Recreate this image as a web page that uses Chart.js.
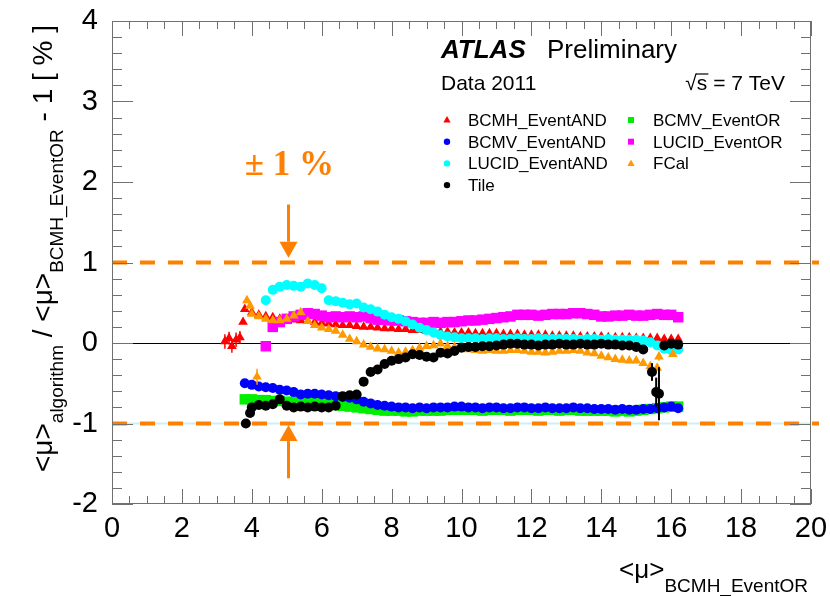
<!DOCTYPE html>
<html>
<head>
<meta charset="utf-8">
<script src="https://cdn.jsdelivr.net/npm/chart.js@4"></script>
<style>
  html, body { margin: 0; padding: 0; background: #fff; }
  #wrap { width: 830px; height: 596px; }
</style>
</head>
<body>
<div id="wrap"><canvas id="chart" width="830" height="596"></canvas></div>
<script>
// <mu> of the reference algorithm (BCMH_EventOR), common binning
const MU_GRID = [
  3.8, 4.0, 4.2, 4.4, 4.6, 4.8, 5.0, 5.2, 5.4, 5.6,
  5.8, 6.0, 6.2, 6.4, 6.6, 6.8, 7.0, 7.2, 7.4, 7.6,
  7.8, 8.0, 8.2, 8.4, 8.6, 8.8, 9.0, 9.2, 9.4, 9.6,
  9.8, 10.0, 10.2, 10.4, 10.6, 10.8, 11.0, 11.2, 11.4, 11.6,
  11.8, 12.0, 12.2, 12.4, 12.6, 12.8, 13.0, 13.2, 13.4, 13.6,
  13.8, 14.0, 14.2, 14.4, 14.6, 14.8, 15.0, 15.2, 15.4, 15.6,
  15.8, 16.0, 16.2
];

// relative deviation in % for each algorithm, one value per MU_GRID bin
const bcmhEventAND = [
  0.42, 0.38, 0.35, 0.33, 0.32, 0.30, 0.29, 0.29, 0.28, 0.27,
  0.26, 0.25, 0.24, 0.23, 0.22, 0.22, 0.21, 0.20, 0.20, 0.19,
  0.18, 0.18, 0.17, 0.17, 0.16, 0.16, 0.15, 0.15, 0.14, 0.14,
  0.13, 0.13, 0.13, 0.12, 0.12, 0.12, 0.12, 0.11, 0.11, 0.11,
  0.10, 0.10, 0.10, 0.10, 0.09, 0.09, 0.09, 0.09, 0.08, 0.08,
  0.08, 0.08, 0.07, 0.07, 0.07, 0.07, 0.06, 0.06, 0.06, 0.06,
  0.05, 0.05, 0.05
];
const bcmvEventAND = [
  -0.50, -0.52, -0.54, -0.55, -0.56, -0.58, -0.59, -0.61, -0.64, -0.63,
  -0.63, -0.64, -0.65, -0.66, -0.67, -0.68, -0.70, -0.73, -0.75, -0.77,
  -0.78, -0.79, -0.80, -0.80, -0.81, -0.80, -0.81, -0.80, -0.80, -0.80,
  -0.79, -0.79, -0.80, -0.80, -0.81, -0.80, -0.80, -0.81, -0.81, -0.80,
  -0.80, -0.81, -0.81, -0.80, -0.81, -0.81, -0.81, -0.80, -0.81, -0.81,
  -0.82, -0.82, -0.82, -0.83, -0.82, -0.83, -0.83, -0.82, -0.82, -0.81,
  -0.80, -0.79, -0.81
];
const bcmvEventOR = [
  -0.70, -0.70, -0.71, -0.71, -0.72, -0.72, -0.73, -0.73, -0.74, -0.74,
  -0.75, -0.75, -0.76, -0.77, -0.78, -0.79, -0.80, -0.81, -0.82, -0.83,
  -0.84, -0.84, -0.84, -0.85, -0.85, -0.84, -0.84, -0.84, -0.84, -0.83,
  -0.83, -0.83, -0.83, -0.83, -0.84, -0.83, -0.83, -0.83, -0.84, -0.83,
  -0.83, -0.83, -0.84, -0.83, -0.83, -0.84, -0.83, -0.83, -0.84, -0.84,
  -0.84, -0.84, -0.84, -0.85, -0.84, -0.85, -0.84, -0.83, -0.82, -0.81,
  -0.80, -0.79, -0.79
];
const lucidEventAND = [
  null, null, null, 0.53, 0.66, 0.70, 0.72, 0.71, 0.70, 0.74,
  0.72, 0.68, 0.53, 0.52, 0.50, 0.48, 0.49, 0.44, 0.42, 0.39,
  0.35, 0.32, 0.30, 0.27, 0.23, 0.19, 0.16, 0.13, 0.10, 0.08,
  0.07, 0.06, 0.06, 0.06, 0.05, 0.06, 0.06, 0.05, 0.05, 0.06,
  0.05, 0.05, 0.06, 0.05, 0.05, 0.05, 0.05, 0.05, 0.04, 0.05,
  0.05, 0.04, 0.05, 0.04, 0.04, 0.04, 0.04, 0.03, 0.01, -0.03,
  -0.07, -0.09, -0.08
];
const lucidEventOR = [
  null, null, null, -0.04, 0.20, 0.26, 0.30, 0.33, 0.35, 0.37,
  0.36, 0.34, 0.32, 0.33, 0.32, 0.33, 0.32, 0.33, 0.31, 0.29,
  0.29, 0.28, 0.28, 0.27, 0.26, 0.25, 0.25, 0.26, 0.25, 0.26,
  0.26, 0.27, 0.28, 0.28, 0.29, 0.30, 0.31, 0.32, 0.33, 0.35,
  0.35, 0.35, 0.34, 0.35, 0.36, 0.36, 0.36, 0.37, 0.37, 0.36,
  0.35, 0.33, 0.33, 0.34, 0.34, 0.35, 0.34, 0.34, 0.35, 0.36,
  0.35, 0.35, 0.32
];
const fcal = [
  null, 0.36, 0.33, 0.30, 0.28, 0.28, 0.30, 0.34, 0.38, 0.27,
  0.22, 0.19, 0.17, 0.15, 0.10, 0.05, 0.02, -0.02, -0.05, -0.07,
  -0.08, -0.10, -0.12, -0.11, -0.09, -0.06, -0.04, -0.03, -0.01, -0.04,
  -0.05, -0.06, -0.08, -0.09, -0.10, -0.09, -0.10, -0.10, -0.09, -0.09,
  -0.10, -0.11, -0.11, -0.12, -0.11, -0.10, -0.10, -0.09, -0.10, -0.12,
  -0.13, -0.16, -0.18, -0.20, -0.21, -0.22, -0.22, -0.25, -0.29, -0.31,
  null, null, null
];
const tile = [
  null, -0.80, -0.77, -0.78, -0.76, -0.70, -0.78, -0.80, -0.79, -0.80,
  -0.79, -0.80, -0.80, -0.78, -0.66, -0.65, -0.64, -0.48, -0.36, -0.33,
  -0.26, -0.22, -0.20, -0.18, -0.14, -0.15, -0.17, -0.18, -0.12, -0.13,
  -0.10, -0.06, -0.05, -0.05, -0.04, -0.04, -0.03, -0.02, -0.01, -0.01,
  -0.02, -0.02, -0.03, -0.02, -0.02, -0.01, -0.02, -0.02, -0.01, -0.02,
  -0.02, -0.01, -0.02, -0.02, -0.03, -0.03, -0.05, -0.08, null, null,
  -0.03, -0.01, -0.02
];

// low-statistics points off the common binning (x, y, error)
const bcmhLowX   = [3.23, 3.35, 3.43, 3.55, 3.66, 3.75];
const bcmhLowY   = [0.02, 0.06, -0.04, 0.04, 0.07, 0.26];
const bcmhLowErr = [0.09, 0.08, 0.08, 0.09, 0.08, 0];
const fcalExtraX   = [3.86, 3.95, 4.15, 15.65, 16.05];
const fcalExtraY   = [0.53, 0.46, -0.42, -0.17, -0.14];
const fcalExtraErr = [0, 0, 0.10, 0.05, 0];
const tileExtraX   = [3.83, 3.95, 15.45, 15.57, 15.65];
const tileExtraY   = [-1.00, -0.87, -0.36, -0.61, -0.63];
const tileExtraErr = [0, 0, 0.11, 0.18, 0.33];

// ±1 % band and axis ranges
const BAND_LEVELS = [1, -1];
const X_RANGE = [0, 20];
const Y_RANGE = [-2, 4];

const FONT = '"Liberation Sans", Arial, Helvetica, sans-serif';
const ORANGE_LINE = '#ff8000';

function toPoints(xs, ys, errs) {
  const pts = [];
  xs.forEach((x, i) => {
    if (ys[i] === null) return;
    pts.push({ x: x, y: ys[i], e: errs ? errs[i] : 0 });
  });
  return pts;
}

// datasets: lower `order` is painted on top
const series = [
  { label: 'BCMH_EventAND', color: '#ff0000', style: 'triangle', r: 5.6, order: 7,
    data: toPoints(bcmhLowX, bcmhLowY, bcmhLowErr).concat(toPoints(MU_GRID, bcmhEventAND)) },
  { label: 'BCMV_EventOR', color: '#00ee00', style: 'rect', r: 7.4, order: 6,
    data: toPoints(MU_GRID, bcmvEventOR) },
  { label: 'BCMV_EventAND', color: '#0000ff', style: 'circle', r: 5, order: 5,
    data: toPoints(MU_GRID, bcmvEventAND) },
  { label: 'LUCID_EventOR', color: '#ff00ff', style: 'rect', r: 7.4, order: 4,
    data: toPoints(MU_GRID, lucidEventOR) },
  { label: 'LUCID_EventAND', color: '#00ffff', style: 'circle', r: 5, order: 3,
    data: toPoints(MU_GRID, lucidEventAND) },
  { label: 'FCal', color: '#ff9900', style: 'triangle', r: 5.6, order: 2,
    data: toPoints(fcalExtraX, fcalExtraY, fcalExtraErr).concat(toPoints(MU_GRID, fcal)) },
  { label: 'Tile', color: '#000000', style: 'circle', r: 5, order: 1,
    data: toPoints(tileExtraX, tileExtraY, tileExtraErr).concat(toPoints(MU_GRID, tile)) }
];

// legend layout, filled row by row in two columns
const LEGEND_ROWS = [
  ['BCMH_EventAND', 'BCMV_EventOR'],
  ['BCMV_EventAND', 'LUCID_EventOR'],
  ['LUCID_EventAND', 'FCal'],
  ['Tile']
];

function line(ctx, x1, y1, x2, y2) {
  ctx.beginPath();
  ctx.moveTo(x1, y1);
  ctx.lineTo(x2, y2);
  ctx.stroke();
}

function marker(ctx, style, x, y, r, color) {
  ctx.fillStyle = color;
  ctx.beginPath();
  if (style === 'circle') {
    ctx.arc(x, y, r, 0, Math.PI * 2);
  } else if (style === 'rect') {
    ctx.rect(x - r, y - r, 2 * r, 2 * r);
  } else {
    ctx.moveTo(x, y - r * 1.1);
    ctx.lineTo(x + r, y + r * 0.7);
    ctx.lineTo(x - r, y + r * 0.7);
    ctx.closePath();
  }
  ctx.fill();
}

// text with subscripts: parts = [[text, size, dy], ...]
function richText(ctx, parts, x, y) {
  let cx = x;
  parts.forEach(([t, size, dy]) => {
    ctx.font = size + 'px ' + FONT;
    ctx.fillText(t, cx, y + dy);
    cx += ctx.measureText(t).width;
  });
  return cx;
}
function richWidth(ctx, parts) {
  let w = 0;
  parts.forEach(([t, size]) => {
    ctx.font = size + 'px ' + FONT;
    w += ctx.measureText(t).width;
  });
  return w;
}

function arrow(ctx, x, yFrom, yTip) {
  const dir = yTip > yFrom ? 1 : -1;
  const head = 16;
  ctx.lineWidth = 3;
  line(ctx, x, yFrom, x, yTip - dir * head);
  ctx.beginPath();
  ctx.moveTo(x, yTip);
  ctx.lineTo(x - 9, yTip - dir * head);
  ctx.lineTo(x + 9, yTip - dir * head);
  ctx.closePath();
  ctx.fill();
}

const rootStyle = {
  id: 'rootStyle',
  beforeDatasetsDraw(chart) {
    const { ctx, chartArea: a, scales: { x, y } } = chart;
    ctx.save();
    // thin guide under the lower dashed line
    ctx.strokeStyle = '#c8f2f2';
    ctx.lineWidth = 2;
    line(ctx, a.left, y.getPixelForValue(-1), a.right, y.getPixelForValue(-1));
    // zero line
    ctx.strokeStyle = '#000';
    ctx.lineWidth = 1.2;
    const y0 = Math.round(y.getPixelForValue(0)) + 0.5;
    line(ctx, a.left, y0, a.right, y0);
    // ±1 % dashed band
    ctx.strokeStyle = ORANGE_LINE;
    ctx.lineWidth = 4;
    ctx.setLineDash([15, 13]);
    BAND_LEVELS.forEach(v => {
      const py = y.getPixelForValue(v);
      line(ctx, a.left, py, a.right + 8, py);
    });
    ctx.restore();
  },
  afterDatasetsDraw(chart) {
    const { ctx, scales: { x, y } } = chart;
    ctx.save();
    chart.data.datasets.forEach(ds => {
      ctx.strokeStyle = ds.borderColor;
      ctx.lineWidth = ds.label === 'Tile' ? 2 : 1.5;
      ds.data.forEach(p => {
        if (!p.e) return;
        const px = x.getPixelForValue(p.x);
        line(ctx, px, y.getPixelForValue(p.y - p.e), px, y.getPixelForValue(p.y + p.e));
      });
    });
    ctx.restore();
  },
  afterDraw(chart) {
    const { ctx, chartArea: a, scales: { x, y } } = chart;
    ctx.save();

    // frame and inward ticks on all four sides
    ctx.strokeStyle = '#707070';
    ctx.lineWidth = 1;
    ctx.strokeRect(a.left + 0.5, a.top + 0.5, a.right - a.left - 1, a.bottom - a.top - 1);
    for (let k = 0; k <= 40; k++) {
      const px = Math.round(x.getPixelForValue(k * 0.5)) + 0.5;
      const len = k % 4 === 0 ? 15 : 8;
      line(ctx, px, a.bottom, px, a.bottom - len);
      line(ctx, px, a.top, px, a.top + len);
    }
    for (let k = 0; k <= 30; k++) {
      const py = Math.round(y.getPixelForValue(-2 + k * 0.2)) + 0.5;
      const len = k % 5 === 0 ? 21 : 10;
      line(ctx, a.left, py, a.left + len, py);
      line(ctx, a.right, py, a.right - len, py);
    }

    ctx.fillStyle = '#000';
    ctx.textBaseline = 'alphabetic';
    ctx.textAlign = 'left';

    // x axis title, right aligned to the frame
    const xTitle = [['<\u03bc>', 26, 0], ['BCMH_EventOR', 19, 14]];
    richText(ctx, xTitle, a.right - 3 - richWidth(ctx, xTitle), 578);

    // y axis title, rotated
    const yTitle = [
      ['<\u03bc>', 28, 0], ['algorithm', 19, 11], [' / ', 28, 0],
      ['<\u03bc>', 28, 0], ['BCMH_EventOR', 19, 11], [' - 1 [ % ]', 28, 0]
    ];
    ctx.save();
    ctx.translate(52, 472);
    ctx.rotate(-Math.PI / 2);
    richText(ctx, yTitle, 0, 0);
    ctx.restore();

    // experiment label
    ctx.font = 'italic bold 26px ' + FONT;
    ctx.fillText('ATLAS', 441, 58);
    ctx.font = '26px ' + FONT;
    ctx.fillText('Preliminary', 547, 58);
    ctx.font = '21px ' + FONT;
    ctx.fillText('Data 2011', 441, 90);
    ctx.textAlign = 'right';
    ctx.fillText('\u221as = 7 TeV', 785, 90);
    const wRest = ctx.measureText('s = 7 TeV').width;
    const wS = ctx.measureText('s').width;
    ctx.lineWidth = 1.2;
    ctx.strokeStyle = '#000';
    line(ctx, 785 - wRest - 1, 74, 785 - wRest + wS + 1, 74);
    ctx.textAlign = 'left';

    // legend
    const byLabel = {};
    chart.data.datasets.forEach(ds => { byLabel[ds.label] = ds; });
    ctx.font = '17px ' + FONT;
    LEGEND_ROWS.forEach((row, ri) => {
      row.forEach((name, ci) => {
        const ds = byLabel[name];
        const mx = ci === 0 ? 447 : 631;
        const tx = ci === 0 ? 468 : 653;
        const cy = 120 + ri * 21.7;
        const r = ds.pointStyle === 'rect' ? 3 : (ds.pointStyle === 'triangle' ? 3.6 : 3.2);
        marker(ctx, ds.pointStyle, mx, cy, r, ds.backgroundColor);
        ctx.fillStyle = '#000';
        ctx.fillText(name, tx, cy + 6);
      });
    });

    // ±1 % annotation with arrows onto the band
    ctx.fillStyle = '#ff7f00';
    ctx.strokeStyle = '#ff7f00';
    ctx.font = 'bold 35px "Liberation Serif", "Times New Roman", serif';
    ctx.fillText('\u00b1 1 %', x.getPixelForValue(3.8), y.getPixelForValue(2.09));
    const ax = x.getPixelForValue(5.05);
    arrow(ctx, ax, y.getPixelForValue(1.72), y.getPixelForValue(1.06));
    arrow(ctx, ax, y.getPixelForValue(-1.68), y.getPixelForValue(-1.02));

    ctx.restore();
  }
};

// keep the frame where the fixed layout puts it, ignoring label overhang
function fixScale(size) {
  return s => {
    if (s.isHorizontal()) s.height = size; else s.width = size;
    s.paddingTop = 0;
    s.paddingBottom = 0;
    s.paddingLeft = 0;
    s.paddingRight = 0;
  };
}

new Chart(document.getElementById('chart'), {
  type: 'scatter',
  data: {
    datasets: series.map(s => ({
      label: s.label,
      data: s.data,
      order: s.order,
      showLine: false,
      pointStyle: s.style,
      pointRadius: s.r,
      pointHoverRadius: s.r,
      pointBorderWidth: 0,
      backgroundColor: s.color,
      borderColor: s.color
    }))
  },
  options: {
    responsive: false,
    animation: false,
    events: [],
    layout: { padding: { left: 0, right: 19, top: 21, bottom: 0 } },
    plugins: {
      legend: { display: false },
      tooltip: { enabled: false }
    },
    scales: {
      x: {
        type: 'linear',
        min: X_RANGE[0],
        max: X_RANGE[1],
        afterFit: fixScale(92),
        grid: { display: false, drawTicks: false },
        border: { display: false },
        ticks: {
          stepSize: 2,
          maxRotation: 0,
          autoSkip: false,
          padding: 8,
          color: '#000',
          font: { family: FONT, size: 29 }
        }
      },
      y: {
        type: 'linear',
        min: Y_RANGE[0],
        max: Y_RANGE[1],
        afterFit: fixScale(112),
        grid: { display: false, drawTicks: false },
        border: { display: false },
        ticks: {
          stepSize: 1,
          padding: 14,
          color: '#000',
          font: { family: FONT, size: 29 }
        }
      }
    }
  },
  plugins: [rootStyle]
});
</script>
</body>
</html>
